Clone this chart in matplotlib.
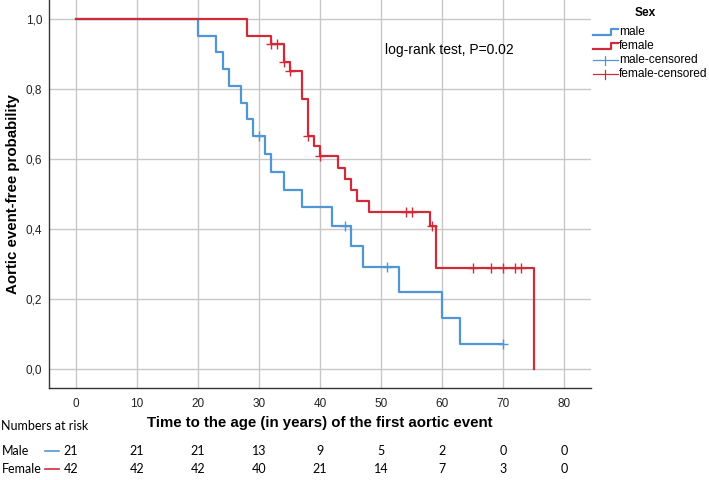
import numpy as np
import matplotlib
matplotlib.use('Agg')
import matplotlib.pyplot as plt
from matplotlib.lines import Line2D

plt.rcParams['font.family'] = ['Liberation Sans', 'DejaVu Sans']

# Kaplan-Meier steps
male_times = [0, 20, 23, 24, 25, 27, 28, 29, 31, 32, 34, 37, 42, 45, 47, 53, 60, 63, 70]
male_surv = [1.0, 0.952, 0.905, 0.857, 0.810, 0.762, 0.714, 0.667, 0.615, 0.564,
             0.513, 0.462, 0.410, 0.352, 0.293, 0.220, 0.147, 0.073, 0.073]
male_censored = [30, 44, 51, 70]

female_times = [0, 28, 32, 34, 35, 37, 38, 39, 40, 43, 44, 45, 46, 48, 58, 59, 75]
female_surv = [1.0, 0.952, 0.929, 0.879, 0.853, 0.773, 0.666, 0.638, 0.608, 0.576,
               0.544, 0.512, 0.481, 0.449, 0.410, 0.289, 0.0]
female_censored = [32, 33, 34, 35, 38, 40, 54, 55, 58.3, 65, 68, 70, 72, 73]

risk_times = [0, 10, 20, 30, 40, 50, 60, 70, 80]
male_at_risk = [21, 21, 21, 13, 9, 5, 2, 0, 0]
female_at_risk = [42, 42, 42, 40, 21, 14, 7, 3, 0]

legend_labels = ['male', 'female', 'male-censored', 'female-censored']

blue = '#5096d4'
red = '#d02b38'
W, H = 709, 480


def level_at(times, surv, t):
    idx = np.searchsorted(times, t, side='right') - 1
    return surv[idx]


def fx(px):
    return px / W


def fy(py):
    return 1 - py / H


fig = plt.figure(figsize=(7.09, 4.80), dpi=100)
ax = fig.add_axes([0.0695, 0.191, 0.7641, 0.809])

ax.step(male_times, male_surv, where='post', color=blue, lw=1.6, zorder=3)
ax.step(female_times, female_surv, where='post', color=red, lw=1.6, zorder=4)
ax.plot(male_censored, [level_at(male_times, male_surv, t) for t in male_censored],
        linestyle='none', marker='+', markersize=6.5, mew=1.0, color=blue, zorder=5)
ax.plot(female_censored, [level_at(female_times, female_surv, t) for t in female_censored],
        linestyle='none', marker='+', markersize=6.5, mew=1.0, color=red, zorder=6)

ax.set_xlim(-4.4, 84.4)
ax.set_ylim(-0.055, 1.055)
ax.set_xticks(range(0, 81, 10))
yt = [0.0, 0.2, 0.4, 0.6, 0.8, 1.0]
ax.set_yticks(yt)
ax.set_yticklabels([f'{v:.1f}'.replace('.', ',') for v in yt])
ax.tick_params(length=0, labelsize=8.5, colors='#222222')
ax.tick_params(axis='x', pad=7)
ax.tick_params(axis='y', pad=5)
ax.grid(color='#c8c8c8', lw=1)
ax.set_axisbelow(True)
for side in ['top', 'right']:
    ax.spines[side].set_visible(False)
for side in ['left', 'bottom']:
    ax.spines[side].set_color('#333333')
    ax.spines[side].set_linewidth(1)

ax.set_xlabel('Time to the age (in years) of the first aortic event', fontsize=10.8,
              fontweight='bold', labelpad=4)
ax.set_ylabel('Aortic event-free probability', fontsize=10.8, fontweight='bold', labelpad=4)
ax.text(50.7, 0.911, 'log-rank test, P=0.02', fontsize=10, va='center', ha='left')

# legend drawn by hand (SPSS style)
fig.text(fx(645), fy(12.7), 'Sex', fontsize=8.6, fontweight='bold', ha='center', va='center')
colors = [blue, red, blue, red]
for i, (lab, col) in enumerate(zip(legend_labels, colors)):
    ypx = 32 + i * 14
    if i < 2:
        fig.add_artist(Line2D([fx(593), fx(611), fx(611), fx(618)],
                              [fy(ypx + 3), fy(ypx + 3), fy(ypx - 3), fy(ypx - 3)],
                              color=col, lw=1.6))
    else:
        fig.add_artist(Line2D([fx(593), fx(618)], [fy(ypx), fy(ypx)], color=col, lw=0.9))
        fig.add_artist(Line2D([fx(605), fx(605)], [fy(ypx - 4.5), fy(ypx + 4.5)], color=col, lw=0.9))
    fig.text(fx(619), fy(ypx), lab, fontsize=8.6, va='center', ha='left')

# numbers at risk table below the axis
tfont = ['Lato', 'DejaVu Sans']
fig.text(0.002, fy(426), 'Numbers at risk', fontsize=9, family=tfont, va='center')
rows = [('Male', blue, male_at_risk, 451), ('Female', red, female_at_risk, 469)]
for name, color, counts, ypix in rows:
    fig.text(0.002, fy(ypix), name, fontsize=9, family=tfont, va='center')
    fig.add_artist(Line2D([fx(45), fx(59)], [fy(ypix), fy(ypix)], color=color, lw=1.2))
    for t, n in zip(risk_times, counts):
        xf = ax.transData.transform((t, 0))[0] / fig.bbox.width
        if t == 0:
            xf = fx(71)
        fig.text(xf, fy(ypix), str(n), fontsize=9, family=tfont, va='center', ha='center')

fig.savefig('out.png', dpi=100)
